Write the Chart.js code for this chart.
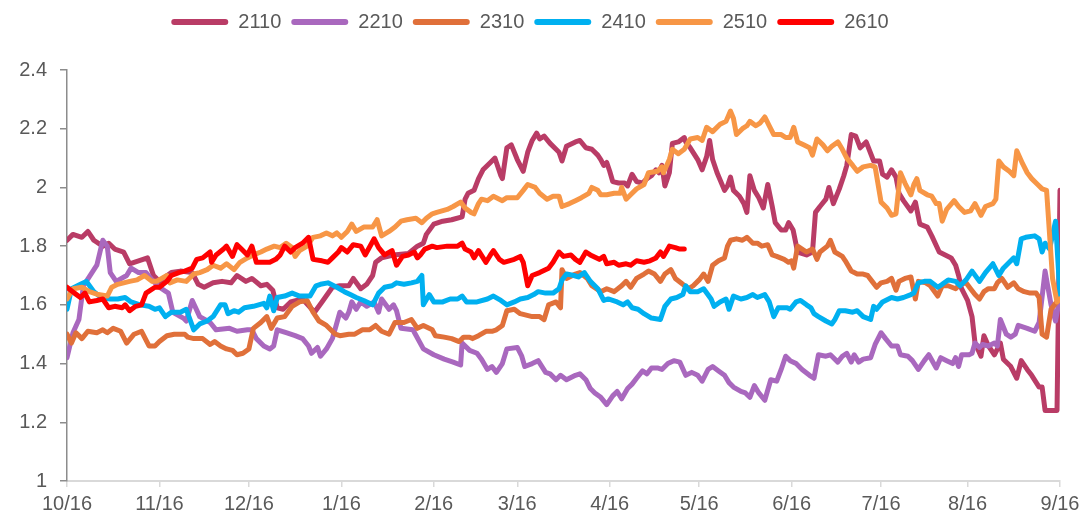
<!DOCTYPE html>
<html>
<head>
<meta charset="utf-8">
<script src="https://cdn.jsdelivr.net/npm/chart.js@4/dist/chart.umd.min.js"></script>
<style>
  html, body { margin: 0; padding: 0; background: #fff; }
  #wrap { width: 1088px; height: 517px; position: relative; }
</style>
</head>
<body>
<div id="wrap"><canvas id="spreadChart"></canvas></div>
<script>
// x = days since 10/16, y = ratio
const tickDays = [0, 31, 61, 92, 123, 151, 182, 212, 243, 273, 302, 333];
const tickLabels = ['10/16', '11/16', '12/16', '1/16', '2/16', '3/16', '4/16', '5/16', '6/16', '7/16', '8/16', '9/16'];

const seriesNames = ['2110', '2210', '2310', '2410', '2510', '2610'];
const seriesColors = ['#B93C66', '#A968BE', '#E0703A', '#00B0F0', '#F79646', '#FF0000'];

const days2110 = [0,2,5,7,9,12,14,16,19,21,24,27,29,31,35,38,42,44,46,49,52,55,57,60,62,65,
  67,69,70.5,72.5,75,79,83,85.5,89,91.5,94.5,96,98.5,100.5,102.5,103.5,105.5,109.5,114.5,117.5,119.5,120.5,123,126,129,132.5,
  133.5,134.5,136.5,138,139.5,142,143.5,145.5,146,147.5,149,151,153,154.5,156,157.5,158.5,160,162,164,165,166,167.5,170.5,172,174,176,178,179,180,181,182,183,185,187,188,189.5,191,193,194.5,196,197.5,198.5,199.5,200.5,202,
  203,205,207,207.5,209,211.5,213,214.5,215.5,216.5,218,220.5,221.5,222.5,223.5,225.5,227,228,229,230.5,232,233.5,235,236.5,237.5,239.5,241,242,243.5,245,248,250,251,252.5,254.5,255.5,257,259,260.5,261.5,263,264.5,266,268,
  270.5,272.5,273.5,275,276.5,278,279,280.5,283,284.5,286,288.5,290,292.5,294.5,296.5,298,299,300,302,303.5,304.5,306.5,307.5,309,311,313,314,316.5,318.5,320,322,323.5,326,327,328,332,333];
const vals2110 = [1.82,1.84,1.83,1.85,1.82,1.80,1.81,1.79,1.78,1.74,1.75,1.76,1.70,1.68,1.71,1.715,1.71,1.67,1.66,1.675,1.68,1.675,1.70,1.68,1.69,1.665,
  1.67,1.65,1.59,1.585,1.61,1.62,1.575,1.61,1.66,1.665,1.665,1.69,1.655,1.67,1.70,1.745,1.76,1.77,1.775,1.80,1.81,1.84,1.875,1.885,1.89,1.90,
  1.96,1.98,1.99,2.03,2.06,2.085,2.10,2.04,2.03,2.135,2.145,2.095,2.055,2.12,2.16,2.185,2.165,2.175,2.15,2.13,2.12,2.09,2.14,2.155,2.16,2.135,2.13,2.11,2.095,2.075,2.085,2.055,2.02,2.015,2.015,2.005,2.045,2.02,2.015,2.03,2.04,2.06,2.05,2.075,2.005,2.05,
  2.15,2.155,2.17,2.155,2.135,2.095,2.06,2.105,2.16,2.095,2.05,1.99,2.005,2.035,1.99,1.97,1.945,1.915,2.04,1.99,1.965,1.93,2.01,1.935,1.88,1.855,1.855,1.88,1.855,1.78,1.77,1.78,1.915,1.935,1.96,2.0,1.945,1.995,2.04,2.075,2.18,2.175,2.135,2.155,
  2.09,2.09,2.045,2.035,2.06,2.035,1.98,1.955,1.92,1.95,1.875,1.865,1.835,1.78,1.77,1.76,1.735,1.70,1.655,1.615,1.56,1.47,1.425,1.495,1.46,1.43,1.47,1.415,1.39,1.35,1.41,1.38,1.36,1.32,1.32,1.24,1.24,1.99];

const days2210 = [0,2,4,5.5,10,12,13.5,14.5,16.5,20,21.5,24,26.5,28.5,31,34,35.5,39,40,42,44.5,48,50,54.5,57,60.5,62,63.5,66,68,
  69.3,70.5,73.5,76.5,79,81,82,84,85,87,89,91.5,93.5,94.5,95.5,97,98.5,100.5,103,104.5,105.5,108,109.5,110.5,112,116,119.5,123,126.5,129.5,132,132.5,135,
  137.5,139,141,142.5,144,146,147.5,151,152.5,153.5,156,158,160.5,162,164,165.5,167.5,170.5,172,174,175.5,177,179,181,183,184.5,186,188,189.5,191,193,194.5,196,198,199.5,201.5,
  203.5,205.5,207.5,209.5,211.5,213,215,216.5,218.5,220.5,222,223.5,226,227.5,229,230.5,232,234,236,238,239.5,241,242.5,244.5,246.5,249,250.5,252,254.5,256,258.5,260,261.5,263,264,265.5,267,269.5,
  271,273,274.5,276.5,278.5,279.5,282,283.5,285.5,287.5,289,291.5,293,295,297,298,299,300,302.5,303.5,304.5,306,307,309,311,312,313,315,316.5,318,319,322,324.5,326,328,330,331.5,333];
const vals2210 = [1.42,1.505,1.55,1.665,1.735,1.82,1.80,1.71,1.68,1.70,1.725,1.71,1.71,1.685,1.66,1.64,1.575,1.555,1.545,1.615,1.56,1.54,1.515,1.52,1.51,1.515,1.515,1.485,1.46,1.45,
  1.46,1.515,1.505,1.495,1.485,1.46,1.435,1.455,1.425,1.45,1.485,1.575,1.555,1.575,1.61,1.585,1.61,1.595,1.61,1.575,1.62,1.585,1.60,1.58,1.52,1.515,1.45,1.43,1.415,1.405,1.395,1.47,1.445,
  1.435,1.415,1.38,1.39,1.37,1.40,1.45,1.455,1.425,1.39,1.40,1.41,1.37,1.365,1.345,1.36,1.345,1.36,1.365,1.345,1.315,1.30,1.285,1.26,1.29,1.305,1.28,1.315,1.33,1.35,1.375,1.365,1.385,1.385,1.38,1.40,
  1.41,1.405,1.36,1.37,1.36,1.34,1.38,1.39,1.375,1.36,1.335,1.32,1.305,1.30,1.285,1.325,1.30,1.275,1.345,1.34,1.38,1.425,1.41,1.40,1.38,1.36,1.35,1.43,1.425,1.43,1.405,1.425,1.435,1.405,1.43,1.405,1.415,1.42,
  1.465,1.505,1.485,1.46,1.46,1.43,1.425,1.41,1.38,1.41,1.43,1.385,1.42,1.41,1.40,1.42,1.39,1.43,1.43,1.435,1.47,1.455,1.465,1.46,1.47,1.46,1.55,1.50,1.49,1.50,1.53,1.52,1.51,1.54,1.715,1.60,1.545,1.63];

const days2310 = [0,1.5,3,5,7,10,12,13.5,15.5,18,20,22.5,25,27.5,29.5,31,33.5,36,39.5,40.5,42.5,45.5,48,49.5,51.5,53.5,55.5,57,59,61,62.5,65,67,
  68.5,70.5,73,75.5,78,80.5,82.5,84.5,87,90,91.5,94.5,96.5,99,101.5,103.5,105.5,108,110,113,115.5,117.5,119.5,122.5,123.5,126.5,129,131.5,133,135,
  136,138,140.5,142.5,144,146,147.5,150,152,156,158.5,160,161.5,164,165.5,166,167.5,170.5,172,174.5,176,179,181,183.5,186,187.5,189,191,193.5,195,197,199,200.5,202.5,
  204,206.5,208.5,210,212,213.5,215,216.5,218.5,220.5,221.5,222.5,224.5,226.5,228,230,231.5,233,235,236.5,238,240.5,242,243,243.7,245,246.5,248,250,251.5,252.5,255,256,257.5,260,261,263,265,267,
  268.5,270,271.5,273,275,276.5,278,279,281,283,284.5,285.5,288,289.5,292,293.5,295.5,298,299.5,301.5,303,304.5,306,307.5,309,311,312,313.5,315.5,317.5,319,321,323,325,326,327,328.5,330,331.5,333];
const vals2310 = [1.50,1.47,1.505,1.485,1.51,1.505,1.515,1.505,1.52,1.51,1.47,1.50,1.51,1.46,1.46,1.475,1.495,1.50,1.50,1.49,1.485,1.485,1.465,1.475,1.46,1.45,1.445,1.43,1.435,1.45,1.52,1.54,1.56,
  1.52,1.555,1.56,1.595,1.61,1.615,1.575,1.545,1.53,1.50,1.495,1.50,1.50,1.515,1.515,1.53,1.51,1.50,1.54,1.54,1.55,1.52,1.53,1.515,1.495,1.49,1.485,1.475,1.49,1.49,
  1.485,1.495,1.51,1.51,1.515,1.53,1.58,1.585,1.57,1.56,1.56,1.55,1.60,1.61,1.59,1.72,1.69,1.705,1.71,1.69,1.665,1.645,1.655,1.645,1.665,1.68,1.66,1.69,1.705,1.715,1.705,1.68,1.705,1.72,
  1.69,1.67,1.655,1.665,1.685,1.705,1.68,1.735,1.75,1.76,1.80,1.82,1.825,1.82,1.83,1.81,1.81,1.80,1.805,1.77,1.765,1.755,1.745,1.75,1.725,1.80,1.79,1.78,1.79,1.755,1.78,1.80,1.82,1.78,1.765,1.75,1.715,1.705,1.705,
  1.70,1.68,1.66,1.675,1.68,1.69,1.65,1.68,1.69,1.695,1.62,1.68,1.675,1.665,1.63,1.665,1.665,1.655,1.67,1.675,1.655,1.635,1.62,1.645,1.655,1.655,1.675,1.69,1.66,1.675,1.655,1.645,1.64,1.64,1.625,1.50,1.49,1.585,1.605,1.62];

const days2410 = [0,1.5,4.5,6.5,9,11.5,14.5,17,19.5,21.5,24.5,27.5,29.5,31,33,35,38,40,42.5,44.5,47,49,51.5,53,54,56,57.5,59.5,62.5,66,67,68,
  69.3,70.5,73,75.5,78,81.5,83.5,85,87.5,90.5,93,95,97,99.5,102.5,104.5,106.5,109,110.5,113,115.5,117.5,119,119.5,121.5,123,126,128.5,131,132.5,134,
  136,137.5,141,143,145.5,147.5,150,152,154.5,156.5,158,160.5,163,165,166,167.5,170,171.5,173.5,175.5,178,180,181.5,184.5,186.5,188,189.5,191.5,193.5,196,199,200.5,202.5,
  204.5,206.5,207.5,209,211.5,213.5,216,217,219,221,222,223.5,226,228,230,231.5,234,235.5,237,238.5,241.5,242.5,244.5,246,248,249.5,250.5,252,254.5,256.5,257.5,259,261,263.5,265,267,269.5,
  270.5,271.5,273.5,276.5,278.5,280.5,283,284,285.5,287.5,289.5,292,293.5,295.5,298,299.5,301.5,303.5,306,308,310.5,311.5,312.5,314,316,317.5,318.5,320,321.5,324.5,326,327,328,329.5,331.5,333];
const vals2410 = [1.585,1.655,1.67,1.68,1.645,1.625,1.62,1.62,1.625,1.61,1.60,1.595,1.585,1.59,1.56,1.575,1.575,1.585,1.515,1.535,1.545,1.56,1.60,1.60,1.57,1.58,1.575,1.59,1.595,1.605,1.59,1.63,
  1.58,1.625,1.63,1.64,1.63,1.63,1.665,1.67,1.675,1.66,1.645,1.635,1.625,1.615,1.60,1.64,1.66,1.665,1.675,1.67,1.675,1.68,1.70,1.60,1.635,1.61,1.61,1.62,1.62,1.63,1.61,
  1.61,1.61,1.62,1.63,1.615,1.60,1.61,1.62,1.625,1.635,1.645,1.64,1.64,1.655,1.685,1.705,1.70,1.695,1.71,1.68,1.655,1.615,1.62,1.61,1.60,1.61,1.59,1.585,1.57,1.555,1.55,1.595,1.62,
  1.625,1.635,1.665,1.645,1.645,1.655,1.62,1.595,1.61,1.62,1.585,1.63,1.62,1.625,1.635,1.625,1.635,1.61,1.56,1.59,1.59,1.585,1.61,1.615,1.60,1.59,1.57,1.56,1.545,1.535,1.55,1.58,1.58,1.575,1.58,1.56,1.55,
  1.595,1.585,1.61,1.625,1.62,1.625,1.635,1.64,1.675,1.68,1.68,1.66,1.67,1.685,1.68,1.665,1.685,1.715,1.68,1.71,1.74,1.72,1.70,1.725,1.745,1.76,1.74,1.825,1.83,1.835,1.825,1.78,1.81,1.79,1.885,1.63];

const days2510 = [0,2,5,7.5,10.5,13.5,15,17,19,21,23.5,26,28.5,30,33.5,34.5,37,40,42.5,44.5,47,49,51.5,53.5,56,58,60.5,62.5,65,67,
  69.5,71.5,73.5,75.5,76.5,78,80.5,82.5,85,87,89,90.5,92,94,95.5,97,99.5,102.5,104,105.5,108,110,112,114,117,119,120.5,122.5,124,127.5,129.5,132,133.5,135.5,
  136.5,138,139,141,143,146,147.5,151,153,154.5,157,158.5,161,163,165,166,168.5,170.5,172.5,175,176,178,179,181,183.5,185.5,186,187.5,189,191,193.5,195,198,199.5,200,202,
  203,205,207,209,211.5,213,214.5,216.5,219,221,222.5,223.5,224.5,226.5,228,229,231,232.5,234,235.5,237,239.5,241,242.5,243.7,245,247,249,250,251.5,253.5,255,256.5,258.5,260,261.5,263.5,265,267,269.5,
  271,273,275,276.5,278,279.5,281,283,284,285,286,288.5,290,291.5,292.5,293.5,295,297.5,299,301,303,304.5,306.5,308,310.5,311.5,312.5,314,316,317.5,318.5,320.5,322,323.5,325.5,327,328.5,330.5,332,333];
const vals2510 = [1.62,1.655,1.66,1.645,1.635,1.63,1.66,1.67,1.675,1.68,1.685,1.70,1.68,1.68,1.70,1.675,1.685,1.68,1.705,1.71,1.72,1.735,1.725,1.74,1.72,1.745,1.76,1.77,1.78,1.79,
  1.80,1.795,1.81,1.795,1.765,1.785,1.80,1.83,1.835,1.845,1.835,1.845,1.83,1.85,1.875,1.85,1.865,1.865,1.89,1.835,1.85,1.865,1.885,1.89,1.895,1.88,1.895,1.91,1.915,1.925,1.935,1.95,1.93,1.915,
  1.91,1.945,1.96,1.955,1.97,1.955,1.965,1.965,1.99,2.01,2.0,1.98,1.96,1.97,1.97,1.935,1.945,1.955,1.965,1.98,2.0,1.99,1.975,1.975,1.98,1.98,2.0,1.96,1.975,1.995,2.01,2.05,2.055,2.07,2.05,2.095,
  2.13,2.115,2.13,2.165,2.17,2.16,2.205,2.19,2.215,2.225,2.26,2.235,2.18,2.20,2.21,2.225,2.21,2.22,2.24,2.21,2.18,2.18,2.17,2.17,2.205,2.155,2.145,2.135,2.11,2.165,2.145,2.125,2.14,2.155,2.13,2.10,2.075,2.055,2.07,2.075,
  2.07,1.95,1.93,1.905,1.91,2.05,2.015,1.975,2.01,2.03,1.99,1.975,1.97,1.945,1.945,1.885,1.925,1.955,1.935,1.915,1.92,1.945,1.905,1.935,1.945,1.96,2.09,2.07,2.055,2.04,2.125,2.08,2.05,2.03,2.01,1.995,1.99,1.69,1.61,1.62];

const days2610 = [0,2.5,4.5,6,7.5,10,12,14,16,18.5,19.5,21,23,25,26.5,29.5,31,33.5,35,37.5,39.5,42,43.5,45.5,48,48.5,50,52.5,53.5,55.5,57,58.5,60.5,62,63.5,66,68,
  70,71.5,73,75,76.5,79,81,82.5,85.5,87.5,89,91,92,94,96,98.5,100,103,104.5,106.5,109,110.5,112.5,114.5,116.5,117.5,118.5,120,122.5,124,127.5,131,132.5,133.5,135.5,
  136.5,138,140.5,142,143,145,146.5,150,152,153,154.5,156,158.5,161.5,163,165,166.5,169,170.5,172,174,175.5,178.5,180,181,183.5,185,187.5,189,191,193.5,195.5,197.5,199,200,202,204,205.5,207];
const vals2610 = [1.66,1.64,1.625,1.64,1.61,1.615,1.62,1.59,1.595,1.59,1.60,1.58,1.595,1.60,1.64,1.66,1.66,1.68,1.70,1.71,1.715,1.725,1.755,1.76,1.78,1.745,1.77,1.79,1.80,1.765,1.805,1.79,1.77,1.80,1.745,1.745,1.745,
  1.755,1.77,1.80,1.78,1.795,1.81,1.83,1.755,1.75,1.745,1.76,1.78,1.795,1.78,1.805,1.80,1.77,1.825,1.795,1.77,1.785,1.735,1.765,1.77,1.78,1.76,1.77,1.79,1.80,1.795,1.80,1.80,1.81,1.79,1.78,
  1.76,1.785,1.745,1.77,1.785,1.755,1.745,1.755,1.765,1.745,1.665,1.70,1.71,1.725,1.745,1.78,1.765,1.77,1.755,1.745,1.78,1.77,1.755,1.765,1.74,1.745,1.735,1.74,1.735,1.75,1.745,1.75,1.76,1.78,1.765,1.80,1.795,1.79,1.79];

const seriesDays = [days2110, days2210, days2310, days2410, days2510, days2610];
const seriesVals = [vals2110, vals2210, vals2310, vals2410, vals2510, vals2610];

const fontFamily = "'Liberation Sans', Arial, sans-serif";
const textColor = '#595959';

const datasets = seriesNames.map((name, i) => ({
  label: name,
  data: seriesDays[i].map((d, j) => ({ x: d, y: seriesVals[i][j] })),
  borderColor: seriesColors[i],
  backgroundColor: seriesColors[i],
  borderWidth: 5,
  pointRadius: 0,
  tension: 0,
  borderJoinStyle: 'round',
  borderCapStyle: 'round',
  order: seriesNames.length - i, // later series on top, like the original
}));

// extra room under the legend
const legendGap = {
  id: 'legendGap',
  beforeInit(chart) {
    const fit = chart.legend.fit;
    chart.legend.fit = function () {
      fit.call(this);
      this.height += 28;
    };
  },
};

new Chart(document.getElementById('spreadChart'), {
  type: 'line',
  data: { datasets },
  plugins: [legendGap],
  options: {
    responsive: true,
    maintainAspectRatio: false,
    animation: false,
    layout: { padding: { top: 2, right: 28, bottom: 0, left: 0 } },
    plugins: {
      tooltip: { enabled: false },
      legend: {
        position: 'top',
        labels: {
          boxWidth: 57,
          boxHeight: 6,
          useBorderRadius: true,
          borderRadius: 3,
          padding: 10,
          color: textColor,
          font: { family: fontFamily, size: 20 },
          sort: (a, b) => a.datasetIndex - b.datasetIndex,
          generateLabels: chart =>
            Chart.defaults.plugins.legend.labels.generateLabels(chart).map(l => ({ ...l, lineWidth: 0 })),
        },
      },
    },
    scales: {
      x: {
        type: 'linear',
        min: 0,
        max: 333,
        afterBuildTicks: axis => { axis.ticks = tickDays.map(v => ({ value: v })); },
        afterFit: s => { s.height = 36; },
        ticks: {
          autoSkip: false,
          maxRotation: 0,
          padding: 5,
          color: textColor,
          font: { family: fontFamily, size: 20 },
          callback: (v, idx) => tickLabels[idx],
        },
        grid: { drawOnChartArea: false, drawTicks: true, tickLength: 6, color: '#D9D9D9', lineWidth: 1.5 },
        border: { display: true, color: '#D9D9D9', width: 2 },
      },
      y: {
        min: 1,
        max: 2.4,
        afterFit: s => { s.width = 67; },
        ticks: {
          stepSize: 0.2,
          padding: 13,
          color: textColor,
          font: { family: fontFamily, size: 20 },
          callback: v => String(+v.toFixed(1)),
        },
        grid: { drawOnChartArea: false, drawTicks: true, tickLength: 7, color: '#8C8C8C', lineWidth: 1.5 },
        border: { display: true, color: '#8C8C8C', width: 1.5 },
      },
    },
  },
});
</script>
</body>
</html>
